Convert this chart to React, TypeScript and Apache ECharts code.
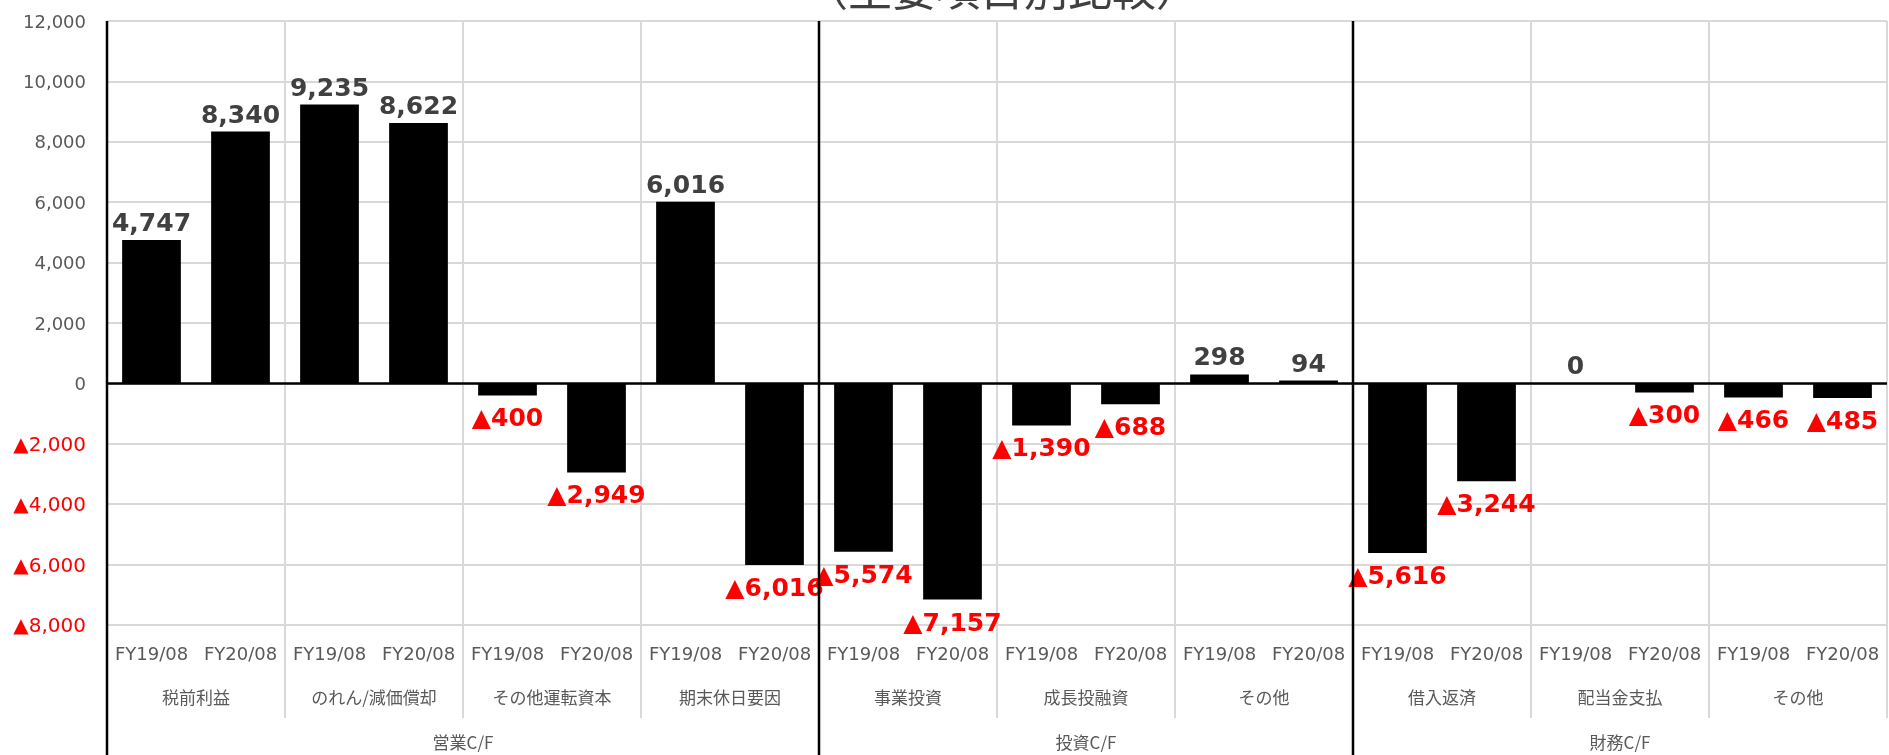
import { useEffect, useRef } from 'react';
import * as echarts from 'echarts';

const periods = ['FY19/08', 'FY20/08'];
const items = ['税前利益', 'のれん/減価償却', 'その他運転資本', '期末休日要因', '事業投資', '成長投融資', 'その他', '借入返済', '配当金支払', 'その他'];
const fy19 = [4747, 9235, -400, 6016, -5574, -1390, 298, -5616, 0, -466];
const fy20 = [8340, 8622, -2949, -6016, -7157, -688, 94, -3244, -300, -485];
const groups = ['営業C/F', '投資C/F', '財務C/F'];
const groupSizes = [4, 3, 3];
const yMin = -8000;
const yMax = 12000;
const yStep = 2000;
const titleText = '（主要項目別比較）';

const fmt = (n: number) => Math.round(n).toLocaleString('en-US');
const signed = (n: number) => (n < 0 ? '▲' + fmt(-n) : fmt(n));

export default function App() {
  const ref = useRef<HTMLDivElement>(null);
  useEffect(() => {
    const chart = echarts.init(ref.current!, null, { renderer: 'svg' });
    const cats = items.flatMap(() => periods);
    const values = items.flatMap((_, i) => [fy19[i], fy20[i]]);
    const starts: number[] = [];
    let acc = 0;
    groupSizes.forEach((s) => { starts.push(acc); acc += s; });
    const centers = groupSizes.map((s, i) => starts[i] + s / 2);

    chart.setOption({
      animation: false,
      grid: { left: 107, right: 2, top: 21, bottom: 130, containLabel: false, outerBoundsMode: 'none' },
      xAxis: [
        {
          type: 'category', data: cats, position: 'bottom',
          axisLine: { show: false, onZero: false }, axisTick: { show: false }, splitLine: { show: false },
          axisLabel: { interval: 0, margin: 19, fontSize: 18, color: '#595959', fontFamily: 'DejaVu Sans' },
        },
        {
          type: 'category', data: items, position: 'bottom',
          axisLine: { show: false, onZero: false },
          axisTick: { show: true, interval: 0, length: 93, lineStyle: { color: '#d9d9d9', width: 2 } },
          splitLine: { show: true, interval: 0, lineStyle: { color: '#d9d9d9', width: 2 } },
          axisLabel: { interval: 0, margin: 63, fontSize: 17, color: '#595959', fontFamily: 'Noto Sans CJK JP' },
        },
        {
          type: 'value', min: 0, max: items.length, interval: 0.5, position: 'bottom',
          axisLine: { show: false, onZero: false }, axisTick: { show: false }, splitLine: { show: false },
          axisLabel: {
            margin: 108, fontSize: 17, color: '#595959', fontFamily: 'Noto Sans CJK JP',
            formatter: (v: number) => {
              const k = centers.findIndex((c) => Math.abs(c - v) < 1e-6);
              return k >= 0 ? groups[k] : '';
            },
          },
        },
      ],
      yAxis: {
        type: 'value', min: yMin, max: yMax, interval: yStep,
        axisLine: { show: false }, axisTick: { show: false },
        splitLine: { lineStyle: { color: '#d9d9d9', width: 2 } },
        axisLabel: {
          margin: 21,
          formatter: (v: number) => (v < 0 ? '{neg|▲' + fmt(-v) + '}' : '{pos|' + fmt(v) + '}'),
          rich: {
            pos: { color: '#595959', fontSize: 18, fontFamily: 'DejaVu Sans' },
            neg: { color: '#ff0000', fontSize: 20, fontFamily: 'DejaVu Sans' },
          },
        },
      },
      series: [
        {
          type: 'bar', xAxisIndex: 0, yAxisIndex: 0,
          barCategoryGap: '34%',
          itemStyle: { color: '#000000' },
          data: values.map((v) => ({
            value: v,
            label: v < 0
              ? { position: 'bottom', distance: 10, color: '#ff0000' }
              : { position: 'top', distance: 5, color: '#404040' },
          })),
          label: {
            show: true, fontSize: 25, fontWeight: 'bold', fontFamily: 'DejaVu Sans',
            formatter: (p: any) => signed(p.value),
          },
          markLine: {
            silent: true, symbol: 'none', label: { show: false },
            lineStyle: { color: '#000000', width: 2.5, type: 'solid' },
            data: [{ yAxis: 0 }],
          },
        },
      ],
    });

    const topY = chart.convertToPixel({ yAxisIndex: 0 }, yMax) as number;
    const h = chart.getHeight();
    const lines = starts.map((s) => {
      const x = chart.convertToPixel({ xAxisIndex: 2 }, s) as number;
      return { type: 'line', silent: true, z: 100, shape: { x1: x, y1: topY, x2: x, y2: h }, style: { stroke: '#000000', lineWidth: 2.5 } };
    });
    chart.setOption({
      graphic: [
        ...lines,
        {
          type: 'text', silent: true, x: 1002, y: 9,
          style: { text: titleText, fill: '#404040', fontSize: 44, fontFamily: 'Noto Sans CJK JP', textAlign: 'center', textVerticalAlign: 'bottom' },
        },
      ],
    });
    return () => chart.dispose();
  }, []);
  return <div ref={ref} style={{ position: 'fixed', left: 0, top: 0, width: 1889, height: 755 }} />;
}
